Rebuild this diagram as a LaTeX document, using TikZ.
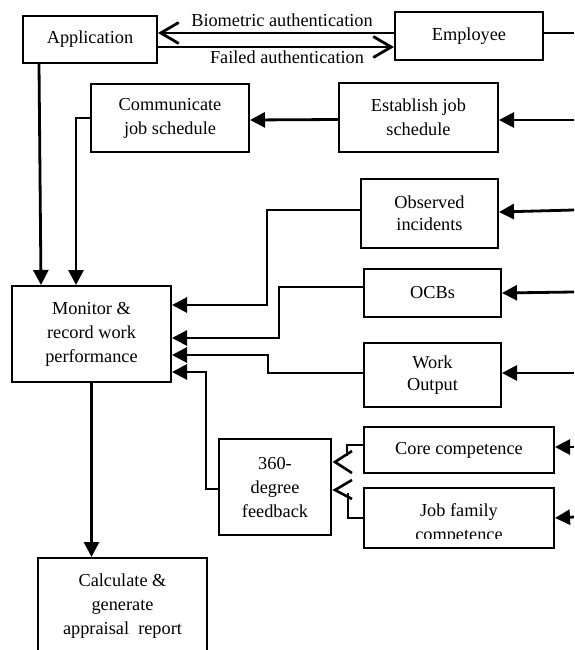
\documentclass[tikz,border=0pt]{standalone}
\usepackage{fontspec}
\setmainfont{Liberation Serif}
\usetikzlibrary{arrows.meta,calc}

\newcommand\txtA{\fontsize{18.3}{24}\selectfont}
\newcommand\txtB{\fontsize{18.3}{22}\selectfont}

\tikzset{
  box/.style={draw, line width=2pt, inner sep=0pt, align=center, font=\txtA},
  lbl/.style={inner sep=0pt, font=\txtA},
  conn/.style={line width=2.8pt, -{Triangle[length=15pt,width=15pt]}},
  feed/.style={line width=2.8pt, -{Straight Barb[length=18pt,width=21pt,line width=2.8pt]}},
  plain/.style={line width=2.6pt},
  thin/.style={line width=1.4pt},
}

\begin{document}
\begin{tikzpicture}[x=1pt,y=-1pt]
\clip (0,0) rectangle (574,650);
\fill[white] (0,0) rectangle (574,650);

% boxes
\node[box, minimum width=134pt, minimum height=47pt] (app)  at (90,39.5)   {Application};
\node[box, minimum width=148pt, minimum height=48pt] (emp)  at (469,36)    {Employee};
\node[box, minimum width=158pt, minimum height=68pt] (comm) at (170,118)   {Communicate\\job schedule};
\node[box, minimum width=159pt, minimum height=69pt] (est)  at (418.5,117.5) {Establish job\\schedule};
\node[box, minimum width=137pt, minimum height=69pt, font=\txtB] (obs) at (429.5,213.5) {Observed\\incidents};
\node[box, minimum width=137pt, minimum height=48pt] (ocb)  at (432.5,293) {OCBs};
\node[box, minimum width=137pt, minimum height=64pt, font=\txtB] (wo) at (432.5,375) {Work\\Output};
\node[box, minimum width=190pt, minimum height=46pt] (core) at (459,450)   {Core competence};
\node[box, minimum width=190pt, minimum height=60pt] (job)  at (459,518)   {};
\begin{scope}
  \clip (364,488) rectangle (554,538);
  \node[lbl, align=center] (jobtext) at (459,523.5) {Job family\\competence};
\end{scope}
\node[box, minimum width=112pt, minimum height=96pt] (deg)  at (275,487)   {360-\\degree\\feedback};
\node[box, minimum width=159pt, minimum height=96pt] (mon)  at (91.5,334)  {Monitor \&\\record work\\performance};
\node[box, minimum width=169pt, minimum height=96pt] (calc) at (122.5,606) {Calculate \&\\generate\\appraisal\ \ report};

% labels of the authentication exchange
\node[lbl] (bio)  at (282,20) {Biometric authentication};
\node[lbl] (fail) at (287,57) {Failed authentication};

% helper coordinates
\coordinate (xa) at (39,0);
\coordinate (xb) at (41,0);
\coordinate (xc) at (76,0);
\coordinate (k1) at (267,305);
\coordinate (k2) at (279,338);
\coordinate (k3) at (268,355);
\coordinate (k4) at (206,372);
\coordinate (k5) at (347,456);
\coordinate (k6) at (348,493);
\coordinate (t1) at (335,462);
\coordinate (t2) at (335,490);
\coordinate (empout) at (574,33);
\coordinate (estin)  at (574,120);
\coordinate (obsin)  at (574,210);
\coordinate (ocbin)  at (574,292);
\coordinate (woin)   at (574,373);
\coordinate (corein) at (574,447);
\coordinate (jobin)  at (574,517);

% authentication exchange
\draw[feed] ([yshift=3pt]emp.west) -- ([yshift=6.5pt]app.east);
\draw[feed] ([yshift=-7.5pt]app.east) -- ([yshift=-11pt]emp.west);
\draw[thin] ([yshift=3pt]emp.east) -- (empout);

% job schedule
\draw[conn] (estin) -- ([yshift=-2.5pt]est.east);
\draw[conn] ([yshift=-2pt]est.west) -- ([yshift=-2pt]comm.east);
\draw[conn] (comm.west) -| (mon.north -| xc);
\draw[conn] (app.south -| xa) -- (mon.north -| xb);

% inputs from the right
\draw[conn] (obsin) -- ([yshift=1.5pt]obs.east);
\draw[conn] (ocbin) -- (ocb.east);
\draw[conn] (woin) -- ([yshift=2pt]wo.east);
\draw[conn] (corein) -- ([yshift=3pt]core.east);
\draw[conn] (jobin) -- (job.east);

% feeds into monitoring
\draw[conn] ([yshift=3.5pt]obs.west) -| (k1) -- (mon.east |- k1);
\draw[conn] ([yshift=6pt]ocb.west) -| (k2) -- (mon.east |- k2);
\draw[conn] ([yshift=2pt]wo.west) -| (k3) -- (mon.east |- k3);
\draw[conn] ([yshift=-2pt]deg.west) -| (k4) -- (mon.east |- k4);

% competences into 360-degree feedback
\draw[plain] ([yshift=5pt]core.west) -| (k5);
\draw[plain] ($(t1)+(17,-11)$) -- (t1) -- ($(t1)+(17,11)$);
\draw[plain] (job.west) -| (k6);
\draw[plain] ($(t2)+(17,-10)$) -- (t2) -- ($(t2)+(17,9)$);

% monitoring to report
\draw[conn] (mon.south) -- (calc.north -| mon.south);
\end{tikzpicture}
\end{document}
